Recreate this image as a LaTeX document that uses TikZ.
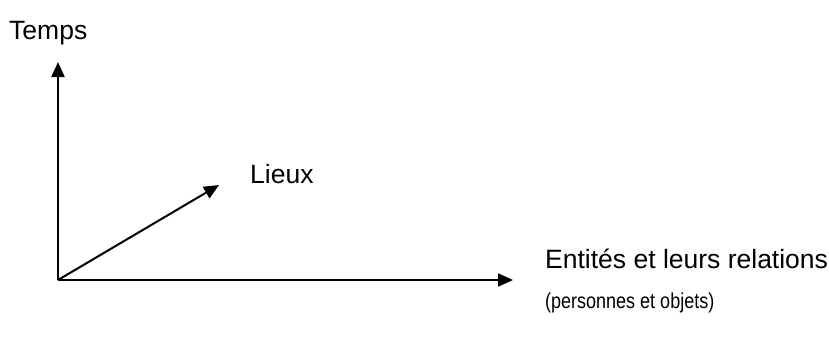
\documentclass[tikz,border=0pt]{standalone}
\usepackage{fontspec}
\setmainfont{Liberation Sans}
\usetikzlibrary{arrows.meta}
\begin{document}
\begin{tikzpicture}[x=1pt,y=-1pt,
  axis/.style={line width=2pt,-{Triangle[length=15pt,width=13pt]}},
  lbl/.style={anchor=base west,inner sep=0pt,font=\fontsize{26.5}{32}\selectfont},
  small/.style={anchor=base west,inner sep=0pt,font=\fontsize{18}{22}\selectfont}]
  \useasboundingbox (0,0) rectangle (829,338);
  \coordinate (O) at (58,280);
  \coordinate (T) at (58,62);
  \coordinate (E) at (513,280);
  \coordinate (L) at (219,185);
  % axes
  \draw[axis] (O) -- (T);
  \draw[axis] (O) -- (E);
  \draw[axis] (O) -- (L);
  % labels
  \node[lbl] (temps) at (9,39) {Temps};
  \node[lbl] (lieux) at (250,183) {Lieux};
  \node[lbl] (ent) at (545,268) {Entités et leurs relations};
  \node[small] (pers) at (545,308) {\scalebox{1}[1.2]{(personnes et objets)}};
\end{tikzpicture}
\end{document}
